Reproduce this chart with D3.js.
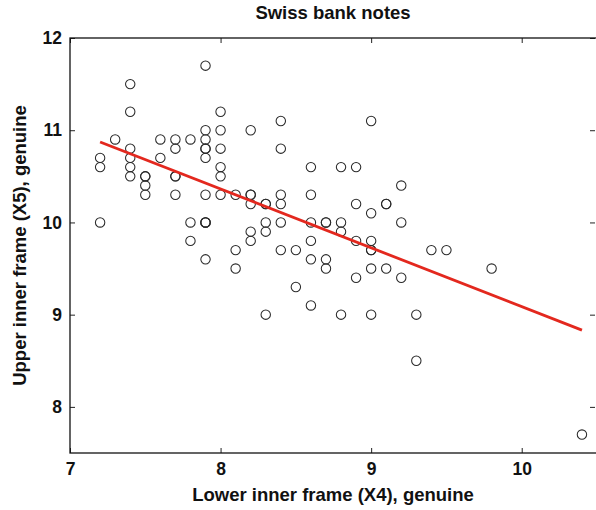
<!DOCTYPE html>
<html>
<head>
<meta charset="utf-8">
<script src="https://cdn.jsdelivr.net/npm/d3@7"></script>
<style>
  html, body { margin: 0; padding: 0; background: #fff; }
  svg { display: block; font-family: "Liberation Sans", Arial, Helvetica, sans-serif; }
</style>
</head>
<body>
<svg id="chart" width="596" height="510"></svg>
<script>
// Swiss bank notes, genuine: lower inner frame (X4) and upper inner frame (X5)
const lowerX4 = [9.0,8.1,8.7,7.5,10.4,9.0,7.9,7.2,8.2,9.2,7.9,7.7,7.9,7.7,7.7,9.3,8.2,9.0,7.4,8.6,
  8.4,8.1,8.4,8.7,7.4,8.0,8.9,9.8,7.4,8.3,7.9,8.6,7.7,8.4,8.9,9.4,8.4,7.9,8.5,8.1,
  8.9,8.8,9.3,9.0,8.2,8.3,8.3,7.3,7.9,7.8,7.2,9.5,7.8,7.6,7.9,9.2,9.2,8.8,7.9,8.2,
  8.3,7.5,8.0,8.0,8.6,8.8,7.7,9.1,8.6,8.0,8.4,8.2,8.7,7.5,7.2,7.6,8.8,7.4,7.9,7.9,
  8.6,7.5,9.0,7.9,9.0,8.9,8.7,8.4,7.4,8.0,8.6,8.5,8.2,7.4,8.3,9.0,9.1,8.0,9.1,7.8];
const upperX5 = [9.7,9.5,9.6,10.4,7.7,10.1,9.6,10.7,11.0,10.0,11.7,10.5,10.8,10.9,10.8,8.5,9.8,9.0,11.5,10.0,
  10.0,10.3,10.8,10.0,10.8,11.0,9.8,9.5,10.5,9.0,10.7,9.1,10.5,10.3,10.6,9.7,9.7,10.0,9.3,9.7,
  9.4,9.9,9.0,9.8,10.2,10.2,10.2,10.9,10.3,9.8,10.0,9.7,10.9,10.9,10.0,9.4,10.4,9.0,11.0,10.3,
  9.9,10.5,10.6,10.8,10.6,10.6,10.3,9.5,9.8,11.2,11.1,10.3,10.0,10.5,10.6,10.7,10.0,10.6,10.9,10.0,
  10.3,10.3,9.7,10.8,11.1,10.2,9.5,10.2,11.2,10.5,9.6,9.7,9.9,10.7,10.0,9.5,10.2,10.3,10.2,10.0];

const xTicks = [7, 8, 9, 10];
const yTicks = [8, 9, 10, 11, 12];
const xDomain = [7, 10.5];
const yDomain = [7.5, 12];
const titleText = "Swiss bank notes";
const xLabelText = "Lower inner frame (X4), genuine";
const yLabelText = "Upper inner frame (X5), genuine";

const svg = d3.select("#chart");
const L = 70, R = 597, T = 38, B = 453;

const x = d3.scaleLinear().domain(xDomain).range([L, R]);
const y = d3.scaleLinear().domain(yDomain).range([B, T]);

// least-squares line of X5 on X4
const mx = d3.mean(lowerX4), my = d3.mean(upperX5);
let sxy = 0, sxx = 0;
lowerX4.forEach((v, i) => { sxy += (v - mx) * (upperX5[i] - my); sxx += (v - mx) * (v - mx); });
const slope = sxy / sxx, icpt = my - slope * mx;
const fitX = d3.extent(lowerX4);

const tickStyle = g => {
  g.select(".domain").remove();
  g.selectAll(".tick line").attr("stroke", "#222").attr("stroke-width", 1);
};
const labelStyle = g => g.selectAll("text").attr("font-size", 17.5).attr("font-weight", "bold")
  .attr("fill", "#111").attr("font-family", "Liberation Sans, Arial, sans-serif");

// bottom axis
svg.append("g").attr("transform", `translate(0,${B})`)
  .call(d3.axisBottom(x).tickValues(xTicks).tickSize(-5).tickPadding(10).tickFormat(d3.format("d")))
  .call(tickStyle).call(labelStyle);
// top axis
svg.append("g").attr("transform", `translate(0,${T})`)
  .call(d3.axisTop(x).tickValues(xTicks).tickSize(-5).tickFormat(""))
  .call(tickStyle);
// left axis
svg.append("g").attr("transform", `translate(${L},0)`)
  .call(d3.axisLeft(y).tickValues(yTicks).tickSize(-5).tickPadding(8).tickFormat(d3.format("d")))
  .call(tickStyle).call(labelStyle);
// right axis
svg.append("g").attr("transform", `translate(${R - 2},0)`)
  .call(d3.axisRight(y).tickValues(yTicks).tickSize(-5).tickFormat(""))
  .call(tickStyle);

// frame
svg.append("rect").attr("x", L).attr("y", T).attr("width", R - L).attr("height", B - T)
  .attr("fill", "none").attr("stroke", "#111").attr("stroke-width", 1.3);

// points
svg.append("g").selectAll("circle").data(lowerX4.map((v, i) => [v, upperX5[i]])).join("circle")
  .attr("cx", d => x(d[0])).attr("cy", d => y(d[1])).attr("r", 4.7)
  .attr("fill", "none").attr("stroke", "#2a2a2a").attr("stroke-width", 1.05);

// regression line
svg.append("line")
  .attr("x1", x(fitX[0])).attr("y1", y(icpt + slope * fitX[0]))
  .attr("x2", x(fitX[1])).attr("y2", y(icpt + slope * fitX[1]))
  .attr("stroke", "#e3281e").attr("stroke-width", 2.8);

// title and labels
svg.append("text").attr("x", 333).attr("y", 19).attr("text-anchor", "middle")
  .attr("font-size", 18.5).attr("font-weight", "bold").attr("fill", "#111").text(titleText);
svg.append("text").attr("x", 333).attr("y", 501).attr("text-anchor", "middle")
  .attr("font-size", 18.5).attr("font-weight", "bold").attr("fill", "#111").text(xLabelText);
svg.append("text").attr("transform", `translate(26,${(T + B) / 2}) rotate(-90)`).attr("text-anchor", "middle")
  .attr("font-size", 18.5).attr("font-weight", "bold").attr("fill", "#111").text(yLabelText);
</script>
</body>
</html>
